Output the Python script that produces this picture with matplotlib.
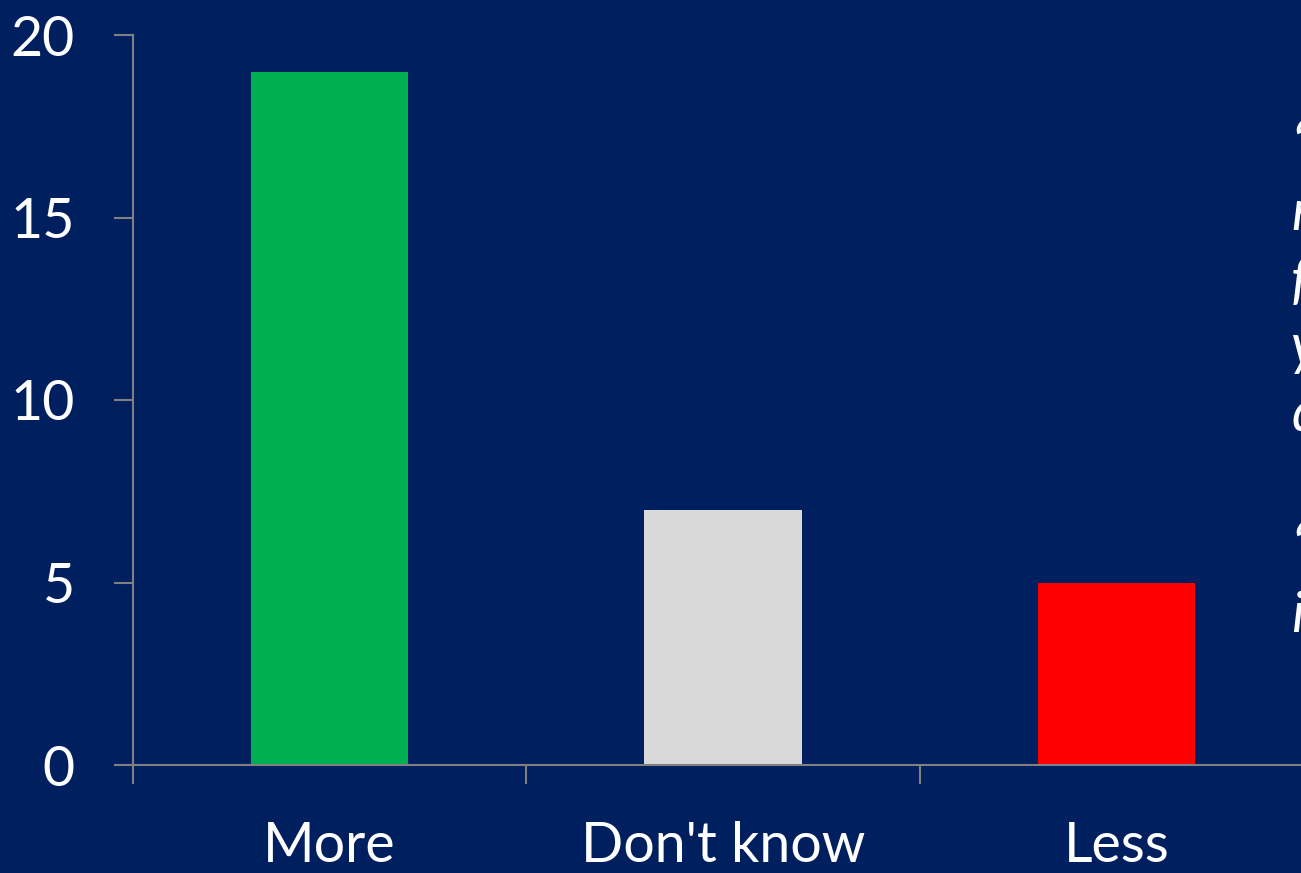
import matplotlib
matplotlib.use("Agg")
import matplotlib.pyplot as plt
from matplotlib.ticker import FixedLocator

categories = ["More", "Don't know", "Less"]
values = [19, 7, 5]
colors = ["#00B050", "#D9D9D9", "#FF0000"]
yticks = [0, 5, 10, 15, 20]
side_lines = ["\u201cI", "more", "for", "you", "do", "", "\u201cI", "in"]

BG = "#001F5F"
W, H = 1301, 873
plt.rcParams['font.family'] = ['Lato', 'DejaVu Sans']
fig = plt.figure(figsize=(W / 100, H / 100), dpi=100, facecolor=BG)

left, right = 133 / W, 1313 / W
bottom, top = 1 - 765 / H, 1 - 35 / H
ax = fig.add_axes([left, bottom, right - left, top - bottom])
ax.set_facecolor(BG)

x = list(range(len(categories)))
ax.bar(x, values, width=0.40, color=colors, zorder=2)
ax.set_xlim(-0.5, len(categories) - 0.5)
ax.set_ylim(0, 20)

for s in ["top", "right"]:
    ax.spines[s].set_visible(False)
for s in ["left", "bottom"]:
    ax.spines[s].set_color("#808080")
    ax.spines[s].set_linewidth(1.5)

ax.set_yticks(yticks)
ax.set_yticklabels([str(t) for t in yticks])
ax.tick_params(axis="y", length=14, width=1.5, color="#808080",
               labelsize=40, pad=28, labelcolor="white")
ax.set_xticks(x)
ax.set_xticklabels(categories)
ax.xaxis.set_minor_locator(FixedLocator([-0.5, 0.5, 1.5]))
ax.tick_params(axis="x", which="major", length=0, labelcolor="white",
               labelsize=40, pad=40)
ax.tick_params(axis="x", which="minor", length=14, width=1.5, color="#808080")

# partially visible italic text at the right edge (cut off in the reference)
baseline0, step = 163, 67
for i, line in enumerate(side_lines):
    if line:
        fig.text(1291 / W, 1 - (baseline0 + i * step) / H, line, color="white",
                 fontsize=40, style="italic", ha="left", va="baseline")

fig.savefig("out.png", dpi=100, facecolor=BG)
